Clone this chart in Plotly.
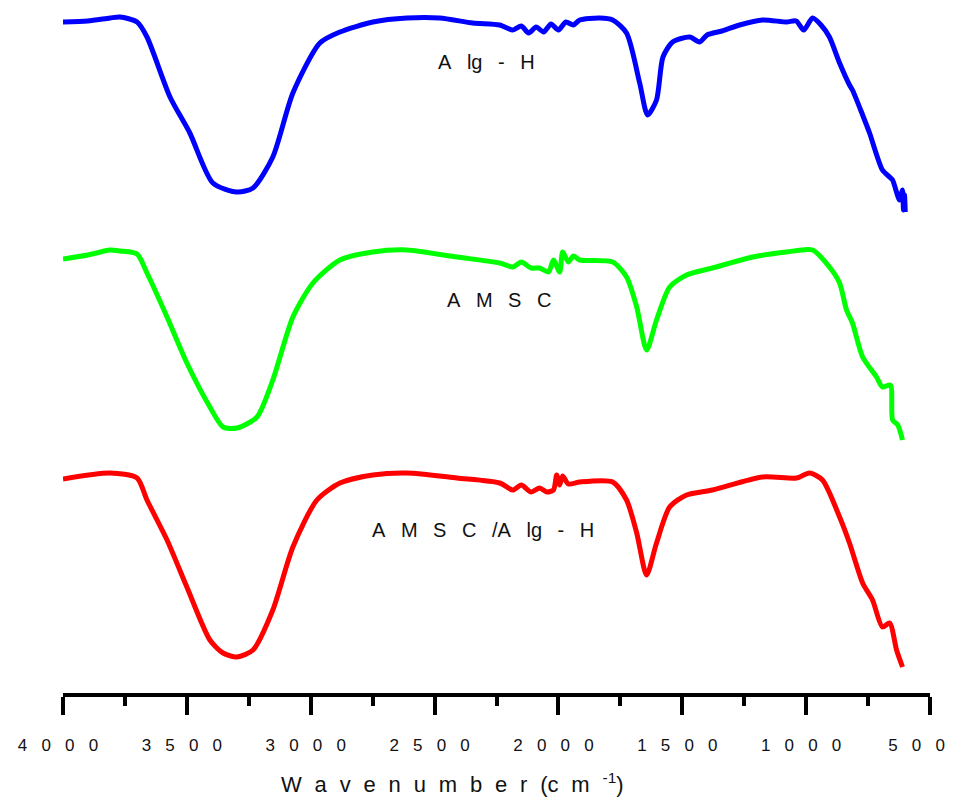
import plotly.graph_objects as go

# ---- data (wavenumber in cm^-1, transmittance in stacked arbitrary units) ----
alg_h_wn = [4000, 3900, 3810, 3770, 3701, 3661, 3568, 3488, 3395, 3298, 3233, 3153, 3072, 2963,
            2882, 2749, 2612, 2479, 2346, 2237, 2184, 2150, 2120, 2090, 2060, 2030, 2000, 1970,
            1940, 1914, 1833, 1781, 1725, 1672, 1640, 1604, 1578, 1539, 1470, 1430, 1400, 1340,
            1269, 1176, 1079, 1040, 1010, 974, 940, 906, 865, 825, 813, 772, 744, 692, 663, 651,
            623, 611, 607, 603, 600]
alg_h_t = [678, 679, 682, 683, 678, 663, 603, 567, 517, 508, 512, 543, 607, 657,
           668, 678, 682, 682, 677, 675, 670, 674, 667, 673, 668, 676, 670, 678,
           675, 680, 682, 680, 667, 617, 585, 600, 643, 658, 663, 658, 665, 669,
           675, 680, 678, 679, 670, 682, 675, 663, 637, 615, 610, 585, 567, 530, 523, 520,
           500, 510, 490, 505, 488]

amsc_wn = [4000, 3900, 3810, 3770, 3701, 3661, 3580, 3500, 3407, 3354, 3298, 3217, 3153, 3072,
           2991, 2882, 2749, 2612, 2410, 2237, 2184, 2150, 2110, 2076, 2040, 2020, 1995, 1983,
           1960, 1940, 1914, 1781, 1725, 1684, 1644, 1604, 1551, 1483, 1378, 1216, 1079, 974,
           906, 865, 837, 813, 772, 716, 692, 660, 651, 630, 611]
amsc_t = [441, 445, 450, 449, 446, 427, 383, 337, 293, 273, 272, 283, 320, 383,
          417, 440, 448, 450, 443, 437, 433, 438, 432, 432, 428, 440, 428, 448,
          438, 444, 440, 438, 423, 393, 350, 380, 413, 425, 432, 443, 448, 450,
          433, 417, 390, 377, 343, 323, 313, 315, 280, 275, 260]

amsc_alg_wn = [4000, 3810, 3701, 3661, 3580, 3500, 3407, 3354, 3298, 3233, 3153, 3072, 2975, 2882,
               2749, 2612, 2410, 2237, 2184, 2150, 2110, 2076, 2047, 2020, 2007, 1995, 1983, 1960,
               1914, 1781, 1725, 1684, 1644, 1604, 1551, 1483, 1378, 1176, 1039, 986, 934, 865,
               825, 772, 732, 692, 663, 635, 611]
amsc_alg_t = [221, 227, 222, 200, 160, 113, 60, 47, 43, 50, 90, 153, 200, 217,
              225, 227, 222, 217, 210, 215, 208, 212, 208, 210, 225, 215, 224, 216,
              218, 218, 200, 167, 125, 157, 193, 205, 210, 223, 222, 227, 220, 183,
              157, 117, 100, 73, 77, 50, 33]

series_names = ["A lg - H", "A M S C", "A M S C /A lg - H"]
series_colors = ["#0000FF", "#00FF00", "#FF0000"]

tick_vals = [4000, 3500, 3000, 2500, 2000, 1500, 1000, 500]
tick_text = ["4 0 0 0", "3 5 0 0", "3 0 0 0", "2 5 0 0", "2 0 0 0", "1 5 0 0", "1 0 0 0", "5 0 0"]

label_x = [2289, 2241, 2305]
label_y = [638, 400, 170]

TICK_GAP = "\u2002\u2004"
LBL_GAP = "\u2002 "
TITLE_GAP = "\u2002\u200a"

fig = go.Figure()
for wn, t, name, col in zip([alg_h_wn, amsc_wn, amsc_alg_wn], [alg_h_t, amsc_t, amsc_alg_t],
                            series_names, series_colors):
    fig.add_trace(go.Scatter(x=wn, y=t, mode="lines", name=name,
                             line=dict(color=col, width=5, shape="spline", smoothing=0.7)))

for name, x, y in zip(series_names, label_x, label_y):
    txt = LBL_GAP.join(name.split(" "))
    fig.add_annotation(x=x, y=y, text=txt, showarrow=False,
                       font=dict(family="Liberation Sans, Arial, sans-serif", size=20, color="#111111"))

spaced_ticks = [TICK_GAP.join(t.split(" ")) for t in tick_text]
# keep the right-most label inside the page
spaced_ticks[-1] = spaced_ticks[-1] + "\u2002\u2002"
title_txt = TITLE_GAP.join(list("Wavenumber")) + TITLE_GAP + "(c" + TITLE_GAP + "m" + TITLE_GAP + "<sup>-1</sup>)"

# axis title as a paper-positioned annotation (it sits left of centre in the original)
fig.add_annotation(xref="paper", yref="paper", x=0.449, y=-0.131, xanchor="center", yanchor="middle",
                   text=title_txt, showarrow=False,
                   font=dict(family="Liberation Sans, Arial, sans-serif", size=22, color="#111111"))

fig.update_layout(
    width=947, height=794,
    margin=dict(l=55, r=25, t=0, b=109, autoexpand=False),
    paper_bgcolor="white", plot_bgcolor="white",
    showlegend=False,
    font=dict(family="Liberation Sans, Arial, sans-serif", color="#111111"),
    xaxis=dict(
        range=[4000, 500], showgrid=False, zeroline=False, automargin=False,
        showline=True, linecolor="black", linewidth=4,
        ticks="outside", ticklen=18, tickwidth=4, tickcolor="black",
        tickvals=tick_vals, ticktext=spaced_ticks,
        tickfont=dict(size=17, color="#111111"),
        ticklabelstandoff=16, ticklabelshift=5, ticklabeloverflow="allow",
        minor=dict(ticks="outside", ticklen=9, tickwidth=4, tickcolor="black", dtick=250, tick0=0),
    ),
    yaxis=dict(range=[7, 692], visible=False, showgrid=False, zeroline=False),
)

fig.write_html("out.html")
